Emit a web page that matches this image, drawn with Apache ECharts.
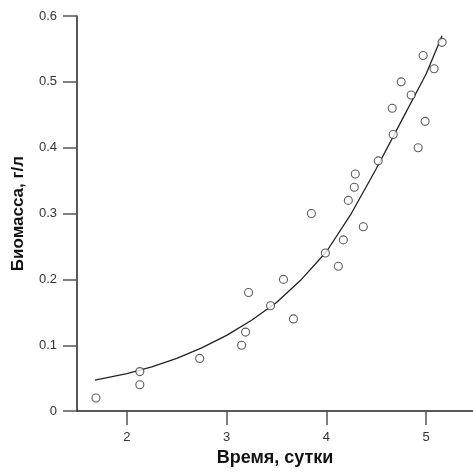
<!DOCTYPE html>
<html>
<head>
<meta charset="utf-8">
<script src="https://cdn.jsdelivr.net/npm/echarts@6/dist/echarts.min.js"></script>
<style>html,body{margin:0;padding:0;background:#fff}#c{width:473px;height:472px}</style>
</head>
<body>
<div id="c"></div>
<script>
// observed points: time (days), biomass (g/L)
var timeDays = [1.69, 2.13, 2.13, 2.73, 3.15, 3.19, 3.22, 3.44, 3.57, 3.67, 3.85, 3.99, 4.12, 4.17, 4.22, 4.28, 4.29, 4.37, 4.52, 4.67, 4.66, 4.75, 4.85, 4.92, 4.99, 4.97, 5.08, 5.16];
var biomass  = [0.02, 0.06, 0.04, 0.08, 0.10, 0.12, 0.18, 0.16, 0.20, 0.14, 0.30, 0.24, 0.22, 0.26, 0.32, 0.34, 0.36, 0.28, 0.38, 0.42, 0.46, 0.50, 0.48, 0.40, 0.44, 0.54, 0.52, 0.56];
// fitted curve
var curveX = [1.68, 2.0, 2.25, 2.5, 2.75, 3.0, 3.25, 3.5, 3.75, 4.0, 4.25, 4.5, 4.75, 5.0, 5.16];
var curveY = [0.047, 0.057, 0.067, 0.080, 0.096, 0.115, 0.138, 0.165, 0.200, 0.242, 0.300, 0.368, 0.440, 0.512, 0.570];
var xTicks = [2, 3, 4, 5];
var xTitle = 'Время, сутки';
var yTitle = 'Биомасса, г/л';

var pts = timeDays.map(function (x, i) { return [x, biomass[i]]; });
var curve = curveX.map(function (x, i) { return [x, curveY[i]]; });
var font = "'Liberation Sans', Arial, sans-serif";

var chart = echarts.init(document.getElementById('c'), null, {renderer: 'canvas'});
chart.setOption({
  animation: false,
  backgroundColor: '#fff',
  grid: {left: 77, right: 0, top: 16, bottom: 58, containLabel: false},
  xAxis: {
    type: 'value', min: 1.5, max: 5.47,
    name: xTitle, nameLocation: 'middle', nameGap: 37,
    nameTextStyle: {fontFamily: font, fontWeight: 'bold', fontSize: 18, color: '#111'},
    axisLine: {show: true, onZero: false, lineStyle: {color: '#222', width: 1.5}},
    axisTick: {show: true, inside: false, length: 14, customValues: xTicks, lineStyle: {color: '#555', width: 1.5}},
    axisLabel: {customValues: xTicks, margin: 20, fontFamily: font, fontSize: 13, color: '#333'},
    splitLine: {show: false}
  },
  yAxis: {
    type: 'value', min: 0, max: 0.6, interval: 0.1,
    name: yTitle, nameLocation: 'middle', nameGap: 50,
    nameTextStyle: {fontFamily: font, fontWeight: 'bold', fontSize: 17, color: '#111'},
    axisLine: {show: true, lineStyle: {color: '#222', width: 1.5}},
    axisTick: {show: true, inside: false, length: 14, lineStyle: {color: '#555', width: 1.5}},
    axisLabel: {margin: 20, fontFamily: font, fontSize: 13, color: '#333',
      formatter: function (v) { return String(Math.round(v * 10) / 10); }},
    splitLine: {show: false}
  },
  series: [
    {
      type: 'line', data: curve, smooth: false, showSymbol: false, symbol: 'none',
      lineStyle: {color: '#222', width: 1.3, join: 'round'}, z: 2
    },
    {
      type: 'scatter', data: pts, symbol: 'circle', symbolSize: 8,
      itemStyle: {color: '#fff', borderColor: '#333', borderWidth: 1.1}, z: 3
    }
  ]
});
</script>
</body>
</html>
